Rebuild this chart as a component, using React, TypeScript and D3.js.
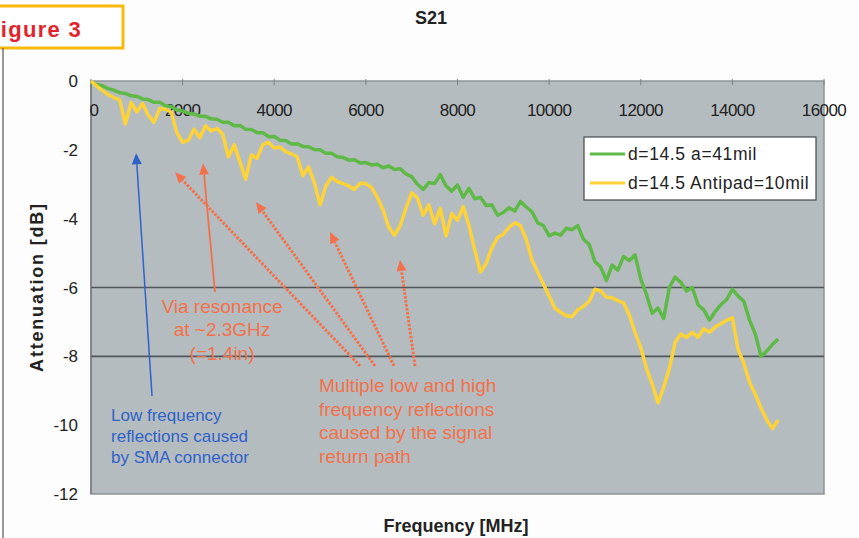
import React from "react";
import * as d3 from "d3";

// sample spacing of the measured traces (MHz)
const stepMHz = 125;

// d=14.5 a=41mil  (green)
const greenDb = [
  -0.03, -0.1, -0.14, -0.22, -0.27, -0.34, -0.36, -0.43, -0.45, -0.52,
  -0.54, -0.62, -0.62, -0.72, -0.74, -0.84, -0.87, -0.94, -0.96, -1.02,
  -1.03, -1.1, -1.11, -1.2, -1.2, -1.3, -1.29, -1.4, -1.41, -1.5,
  -1.5, -1.62, -1.61, -1.72, -1.73, -1.83, -1.82, -1.9, -1.91, -1.99,
  -2.0, -2.1, -2.1, -2.2, -2.22, -2.3, -2.29, -2.38, -2.37, -2.44,
  -2.42, -2.52, -2.47, -2.57, -2.55, -2.7, -2.78, -3.0, -3.15, -2.95,
  -2.98, -2.72, -3.05, -3.2, -3.02, -3.38, -3.12, -3.42, -3.38, -3.62,
  -3.6, -3.9, -3.82, -3.68, -3.78, -3.5, -3.66, -3.8, -4.12, -4.2,
  -4.5, -4.42, -4.48, -4.28, -4.32, -4.2, -4.6, -4.75, -5.25, -5.4,
  -5.8, -5.35, -5.5, -5.1, -5.22, -5.05, -5.75, -6.2, -6.75, -6.6,
  -6.9, -6.0, -5.7, -5.85, -6.1, -6.0, -6.5, -6.65, -6.95, -6.7,
  -6.5, -6.35, -6.05, -6.25, -6.4, -6.95, -7.35, -8.0, -7.85, -7.65,
  -7.5,
];

// d=14.5 Antipad=10mil  (yellow)
const yellowDb = [
  0.0, -0.15, -0.28, -0.4, -0.48, -0.55, -1.25, -0.62, -0.9, -0.65,
  -1.0, -1.2, -0.8, -0.82, -0.9, -1.5, -1.78, -1.72, -1.4, -1.65,
  -1.3, -1.45, -1.38, -1.55, -2.2, -1.85, -2.35, -2.85, -2.15, -2.25,
  -1.85, -1.78, -1.95, -1.92, -2.05, -2.12, -2.2, -2.75, -2.5, -2.95,
  -3.6, -3.05, -2.8, -2.92, -2.98, -3.05, -3.15, -2.97, -2.98, -3.1,
  -3.38, -3.75, -4.25, -4.48, -4.2, -3.7, -3.25, -3.4, -3.9, -3.6,
  -4.15, -3.7, -4.5, -3.85, -4.05, -3.65, -4.2, -4.9, -5.55, -5.3,
  -4.85, -4.55, -4.45, -4.25, -4.12, -4.2, -4.6, -5.2, -5.55, -5.9,
  -6.25, -6.6, -6.72, -6.82, -6.85, -6.65, -6.55, -6.4, -6.05, -6.1,
  -6.28, -6.3, -6.38, -6.45, -6.8, -7.3, -7.75, -8.35, -8.8, -9.35,
  -8.9, -8.35, -7.6, -7.35, -7.45, -7.3, -7.45, -7.2, -7.3, -7.15,
  -7.05, -6.95, -6.88, -7.8, -8.2, -8.75, -9.1, -9.5, -9.85, -10.1,
  -9.85,
];

const seriesNames = ["d=14.5 a=41mil", "d=14.5 Antipad=10mil"];
const seriesColors = ["#5fb946", "#fdd338"];

const xTicks = [0, 2000, 4000, 6000, 8000, 10000, 12000, 14000, 16000];
const yTicks = [0, -2, -4, -6, -8, -10, -12];
const gridLines = [-6, -8];

// annotations in data units: [fromFreq, fromDb, toFreq, toDb]
const blueArrow = [1332, -9.15, 985, -2.1];
const viaArrow = [2707, -6.13, 2445, -2.4];
const reflectionArrows = [
  [5872, -8.28, 1834, -2.65],
  [6200, -8.28, 3602, -3.52],
  [6614, -8.28, 5217, -4.39],
  [7073, -8.28, 6745, -5.2],
];
const blueText = ["Low frequency", "reflections caused", "by SMA connector"];
const viaText = ["Via resonance", "at ~2.3GHz", "(=1.4in)"];
const multiText = ["Multiple low and high", "frequency reflections", "caused by the signal", "return path"];

const W = 859;
const H = 538;
const font = "'Liberation Sans', Arial, sans-serif";

const x = d3.scaleLinear().domain([0, 16000]).range([91, 824]);
const y = d3.scaleLinear().domain([0, -12]).range([81, 494]);

function Arrow({ a, color, width, dash }: { a: number[]; color: string; width: number; dash?: string }) {
  const x1 = x(a[0]), y1 = y(a[1]), x2 = x(a[2]), y2 = y(a[3]);
  const ang = Math.atan2(y2 - y1, x2 - x1);
  const len = 11, half = 5;
  const bx = x2 - len * Math.cos(ang), by = y2 - len * Math.sin(ang);
  const pts = [
    [x2, y2],
    [bx + half * Math.sin(ang), by - half * Math.cos(ang)],
    [bx - half * Math.sin(ang), by + half * Math.cos(ang)],
  ];
  return (
    <g>
      <line x1={x1} y1={y1} x2={bx} y2={by} stroke={color} strokeWidth={width} strokeDasharray={dash} />
      <polygon points={pts.map((p) => p.join(",")).join(" ")} fill={color} />
    </g>
  );
}

export default function App() {
  const line = d3
    .line<number>()
    .x((_, i) => x(i * stepMHz))
    .y((d) => y(d));

  const orange = "#f2714a";
  const blue = "#2f62c9";

  return (
    <svg width={W} height={H} style={{ position: "absolute", left: 0, top: 0, background: "#fdfdfd" }} fontFamily={font}>
      <rect width={W} height={H} fill="#fdfdfd" />

      {/* figure tag (cropped at the left edge like the scan) */}
      <rect x={-10} y={6} width={133} height={42} fill="#fff" stroke="#f8b90a" strokeWidth={3} />
      <text x={82} y={37} textAnchor="end" fill="#e3232c" fontWeight="bold" fontSize={22} letterSpacing={1.3}>
        Figure 3
      </text>
      <line x1={3} y1={48} x2={3} y2={H} stroke="#555" strokeWidth={1.2} />

      <text x={431} y={24} textAnchor="middle" fontWeight="bold" fontSize={18} fill="#222">
        S21
      </text>

      {/* plot area */}
      <rect x={x(0)} y={y(0)} width={x(16000) - x(0)} height={y(-12) - y(0)} fill="#b5bcc0" stroke="#8e9599" strokeWidth={1.5} />
      {gridLines.map((g) => (
        <line key={g} x1={x(0)} x2={x(16000)} y1={y(g)} y2={y(g)} stroke="#50565a" strokeWidth={1.6} />
      ))}
      <line x1={x(0)} x2={x(0)} y1={y(0)} y2={y(-12)} stroke="#6a7074" strokeWidth={1.2} />

      {xTicks.map((t) => (
        <g key={t}>
          <line x1={x(t)} x2={x(t)} y1={y(0) - 2} y2={y(0) + 4} stroke="#7d8488" strokeWidth={1} />
          <text x={x(t) + (t === 0 ? 3 : 0)} y={116} textAnchor="middle" fontSize={17} fill="#222" letterSpacing={-0.6}>
            {t}
          </text>
        </g>
      ))}
      {yTicks.map((t) => (
        <text key={t} x={78} y={y(t) + 6} textAnchor="end" fontSize={17} fill="#222">
          {t}
        </text>
      ))}

      {/* traces */}
      <path d={line(greenDb) || ""} fill="none" stroke={seriesColors[0]} strokeWidth={3.5} strokeLinejoin="round" />
      <path d={line(yellowDb) || ""} fill="none" stroke={seriesColors[1]} strokeWidth={3.5} strokeLinejoin="round" />

      {/* legend */}
      <rect x={584} y={137} width={232} height={63} fill="#fff" stroke="#454a4e" strokeWidth={1.2} />
      {seriesNames.map((n, i) => (
        <g key={n}>
          <line x1={590} x2={625} y1={154 + i * 29} y2={154 + i * 29} stroke={seriesColors[i]} strokeWidth={3} />
          <text x={628} y={160 + i * 29} fontSize={17.5} fill="#222" letterSpacing={0.6}>
            {n}
          </text>
        </g>
      ))}

      {/* annotations */}
      <Arrow a={blueArrow} color={blue} width={1.5} />
      <Arrow a={viaArrow} color={orange} width={1.8} />
      {reflectionArrows.map((a, i) => (
        <Arrow key={i} a={a} color={orange} width={3} dash="2.5 1.5" />
      ))}
      {blueText.map((t, i) => (
        <text key={t} x={x(437)} y={y(-9.88) + i * 21} fontSize={17} fill={blue}>
          {t}
        </text>
      ))}
      {viaText.map((t, i) => (
        <text key={t} x={x(2860)} y={y(-6.74) + i * 23.5} textAnchor="middle" fontSize={19} fill={orange}>
          {t}
        </text>
      ))}
      {multiText.map((t, i) => (
        <text key={t} x={x(4977)} y={y(-9.04) + i * 23.5} fontSize={19} fill={orange}>
          {t}
        </text>
      ))}

      {/* axis titles */}
      <text x={456} y={532} textAnchor="middle" fontWeight="bold" fontSize={18} fill="#222">
        Frequency [MHz]
      </text>
      <text transform="translate(43,287) rotate(-90)" textAnchor="middle" fontWeight="bold" fontSize={18} fill="#222" letterSpacing={1.8}>
        Attenuation [dB]
      </text>
    </svg>
  );
}
